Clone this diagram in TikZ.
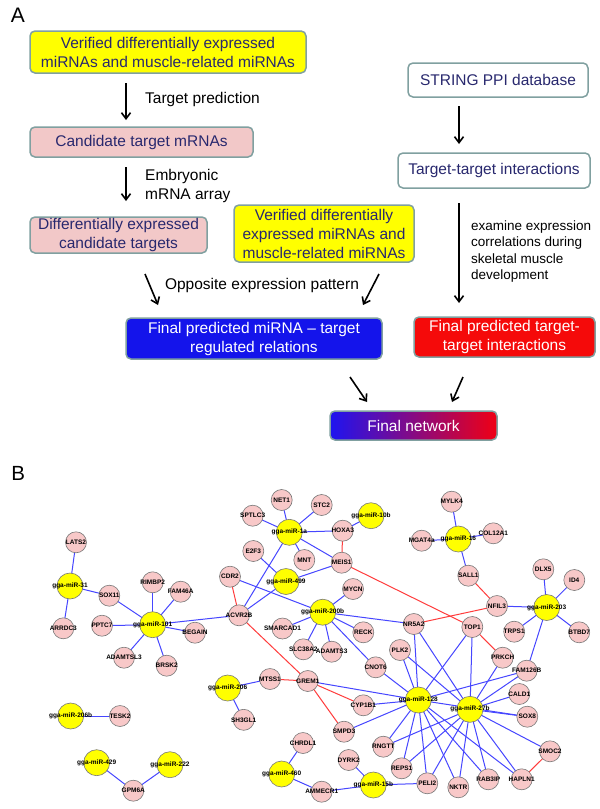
\documentclass[tikz,border=0pt]{standalone}
\usepackage{fontspec}
\setmainfont{Liberation Sans}
\usetikzlibrary{arrows.meta,backgrounds}
\definecolor{boxborder}{RGB}{128,160,160}
\definecolor{navy}{RGB}{40,40,110}
\definecolor{pinkfill}{RGB}{242,200,200}
\definecolor{nodepink}{RGB}{248,200,200}
\definecolor{yel}{RGB}{255,255,0}
\definecolor{bluebox}{RGB}{20,20,235}
\definecolor{redbox}{RGB}{245,10,10}
\definecolor{gradl}{RGB}{30,20,240}
\definecolor{gradm}{RGB}{120,0,130}
\definecolor{gradr}{RGB}{240,0,20}
\definecolor{edgeblue}{RGB}{70,70,255}
\definecolor{edgered}{RGB}{255,60,60}
\definecolor{nodeborder}{RGB}{120,120,120}
\begin{document}
\begin{tikzpicture}[x=1pt,y=-1pt,
  box/.style={draw=boxborder, line width=1.5pt, rounded corners=5pt, align=center, text=navy,
    font=\fontsize{15.5}{19}\selectfont, inner sep=0pt},
  arr/.style={-{Straight Barb[length=6pt,width=9pt]}, line width=1.6pt, black},
  txt/.style={font=\fontsize{15.5}{19}\selectfont, inner sep=0pt},
  lab/.style={font=\fontsize{6.5}{7}\selectfont\bfseries, inner sep=0pt, text=black},
  pk/.style={circle, draw=nodeborder, line width=0.6pt, fill=nodepink, minimum size=21pt, inner sep=0pt, label={[lab]center:#1}},
  mr/.style={circle, draw=nodeborder, line width=0.6pt, fill=yel, minimum size=26pt, inner sep=0pt, label={[lab]center:#1}},
  be/.style={draw=edgeblue, line width=1pt},
  re/.style={draw=edgered, line width=1pt}]
\useasboundingbox (0,0) rectangle (600,809);

% ---------------- Part A ----------------
\node[font=\fontsize{21}{21}\selectfont, inner sep=0pt] (labA) at (18,15) {A};

\node[box, fill=yel, minimum width=276pt, minimum height=42pt] (b1) at (168,52)
  {Verified differentially expressed\\miRNAs and muscle-related miRNAs};
\node[box, fill=pinkfill, minimum width=223pt, minimum height=30pt] (b2) at (141.5,142)
  {Candidate target mRNAs};
\node[box, fill=pinkfill, minimum width=177pt, minimum height=36pt] (b3) at (118.5,235)
  {Differentially expressed\\candidate targets};
\node[box, fill=yel, minimum width=180pt, minimum height=57pt] (b4) at (324,233.5)
  {Verified differentially\\expressed miRNAs and\\muscle-related miRNAs};
\node[box, fill=white, minimum width=180pt, minimum height=34pt] (s1) at (498,80)
  {STRING PPI database};
\node[box, fill=white, minimum width=192pt, minimum height=35pt] (s2) at (494,170.5)
  {Target-target interactions};
\node[box, fill=bluebox, text=white, minimum width=256pt, minimum height=41pt] (fb) at (254,338.5)
  {Final predicted miRNA -- target\\regulated relations};
\node[box, fill=redbox, text=white, minimum width=181pt, minimum height=40pt] (fr) at (504.5,337)
  {Final predicted target-\\target interactions};
\node[box, left color=gradl, middle color=gradm, right color=gradr, text=white,
  minimum width=167pt, minimum height=29pt] (fn) at (413.5,425.5) {Final network};

\node[txt, anchor=west] (tp) at (145,99) {Target prediction};
\node[txt, anchor=west, align=left] (em) at (145,185.5) {Embryonic\\mRNA array};
\node[txt] (op) at (262,285) {Opposite expression pattern};
\node[anchor=west, align=left, inner sep=0pt, font=\fontsize{13.5}{16.3}\selectfont] (ex) at (471,251.5)
  {examine expression\\correlations during\\skeletal muscle\\development};

\coordinate (a1s) at (126,83);   \coordinate (a1e) at (126,120);
\coordinate (a2s) at (126,167);  \coordinate (a2e) at (126,201);
\coordinate (a3s) at (459,106);  \coordinate (a3e) at (459,144);
\coordinate (a4s) at (459,203);  \coordinate (a4e) at (459,303);
\coordinate (a5s) at (145,274);  \coordinate (a5e) at (158,305);
\coordinate (a6s) at (379,274);  \coordinate (a6e) at (363,305);
\coordinate (a7s) at (350,377);  \coordinate (a7e) at (367,402);
\coordinate (a8s) at (463,377);  \coordinate (a8e) at (452,402);
\foreach \s/\e in {a1s/a1e,a2s/a2e,a3s/a3e,a4s/a4e,a5s/a5e,a6s/a6e,a7s/a7e,a8s/a8e}
  \draw[arr] (\s) -- (\e);

% ---------------- Part B ----------------
\node[font=\fontsize{20.5}{20.5}\selectfont, inner sep=0pt] (labB) at (18.3,473.3) {B};

% miRNAs
\node[mr=gga-miR-31] (m31) at (70,586) {};
\node[mr=gga-miR-101] (m101) at (152.7,624.7) {};
\node[mr=gga-miR-206b] (m206b) at (70.7,716) {};
\node[mr=gga-miR-429] (m429) at (96.7,762.7) {};
\node[mr=gga-miR-222] (m222) at (170,764.7) {};
\node[mr=gga-miR-1a] (m1a) at (289.3,532.3) {};
\node[mr=gga-miR-10b] (m10b) at (371,515.7) {};
\node[mr=gga-miR-499] (m499) at (286,581.5) {};
\node[mr=gga-miR-200b] (m200b) at (322.7,612.2) {};
\node[mr=gga-miR-206] (m206) at (227.7,688) {};
\node[mr=gga-miR-460] (m460) at (281.7,774) {};
\node[mr=gga-miR-15b] (m15b) at (373.3,785) {};
\node[mr=gga-miR-16] (m16) at (458.3,539) {};
\node[mr=gga-miR-203] (m203) at (546.7,607.5) {};
\node[mr=gga-miR-128] (m128) at (418.3,700) {};
\node[mr=gga-miR-27b] (m27b) at (470,709.3) {};

% targets
\node[pk=LATS2] (LATS2) at (76,542.3) {};
\node[pk=SOX11] (SOX11) at (109.3,595.7) {};
\node[pk=ARRDC3] (ARRDC3) at (63.3,628.3) {};
\node[pk=RIMBP2] (RIMBP2) at (152.7,582.3) {};
\node[pk=FAM46A] (FAM46A) at (180.7,591.7) {};
\node[pk=PPTC7] (PPTC7) at (102,625.7) {};
\node[pk=BEGAIN] (BEGAIN) at (195,632.7) {};
\node[pk=ADAMTSL3] (ADAMTSL3) at (124,657.7) {};
\node[pk=BRSK2] (BRSK2) at (166.7,665.7) {};
\node[pk=TESK2] (TESK2) at (120,716) {};
\node[pk=GPM6A] (GPM6A) at (133.3,790.7) {};
\node[pk=CDR2] (CDR2) at (230,576.7) {};
\node[pk=ACVR2B] (ACVR2B) at (239,615.3) {};
\node[pk=NET1] (NET1) at (281.7,500) {};
\node[pk=STC2] (STC2) at (321.7,505) {};
\node[pk=SPTLC3] (SPTLC3) at (252.7,515.7) {};
\node[pk=HOXA3] (HOXA3) at (342.7,530.7) {};
\node[pk=E2F3] (E2F3) at (253.3,551) {};
\node[pk=MNT] (MNT) at (304.3,560) {};
\node[pk=MEIS1] (MEIS1) at (341.7,562.7) {};
\node[pk=MYCN] (MYCN) at (353,589) {};
\node[pk=SMARCAD1] (SMARCAD1) at (282.5,628.5) {};
\node[pk=RECK] (RECK) at (363.3,632.3) {};
\node[pk=SLC38A2] (SLC38A2) at (303.3,649.3) {};
\node[pk=ADAMTS3] (ADAMTS3) at (331.7,651.7) {};
\node[pk=MTSS1] (MTSS1) at (270,679) {};
\node[pk=GREM1] (GREM1) at (307.8,681) {};
\node[pk=SH3GL1] (SH3GL1) at (243.7,719.8) {};
\node[pk=CHRDL1] (CHRDL1) at (303,743) {};
\node[pk=AMMECR1] (AMMECR1) at (321.7,791.7) {};
\node[pk=MYLK4] (MYLK4) at (451.7,501.7) {};
\node[pk=MGAT4a] (MGAT4a) at (421.7,540.7) {};
\node[pk=COL12A1] (COL12A1) at (493.3,533.3) {};
\node[pk=SALL1] (SALL1) at (468.3,575.7) {};
\node[pk=NFIL3] (NFIL3) at (497,606) {};
\node[pk=DLX5] (DLX5) at (543.3,569.3) {};
\node[pk=ID4] (ID4) at (574.3,580) {};
\node[pk=TRPS1] (TRPS1) at (514.2,631.7) {};
\node[pk=BTBD7] (BTBD7) at (579.2,632.3) {};
\node[pk=NR5A2] (NR5A2) at (413.8,624) {};
\node[pk=TOP1] (TOP1) at (472.3,627) {};
\node[pk=PLK2] (PLK2) at (400,650) {};
\node[pk=PRKCH] (PRKCH) at (502.7,657.7) {};
\node[pk=CNOT6] (CNOT6) at (375.7,667.3) {};
\node[pk=FAM126B] (FAM126B) at (526.7,670.7) {};
\node[pk=CALD1] (CALD1) at (519.3,694) {};
\node[pk=CYP1B1] (CYP1B1) at (363.3,705.3) {};
\node[pk=SOX8] (SOX8) at (527.3,716.7) {};
\node[pk=SMPD3] (SMPD3) at (344,731.7) {};
\node[pk=RNGTT] (RNGTT) at (383.3,746.7) {};
\node[pk=SMOC2] (SMOC2) at (550,751.3) {};
\node[pk=DYRK2] (DYRK2) at (348.7,760) {};
\node[pk=REPS1] (REPS1) at (401.7,768.3) {};
\node[pk=PELI2] (PELI2) at (427.3,783.3) {};
\node[pk=NKTR] (NKTR) at (458.3,787.3) {};
\node[pk=RAB3IP] (RAB3IP) at (488.3,779.3) {};
\node[pk=HAPLN1] (HAPLN1) at (521.7,779.3) {};

\begin{scope}[on background layer]
\fill[white] (0,0) rectangle (600,809);
\foreach \a/\b in {m31/LATS2,m31/SOX11,m31/ARRDC3,
  m101/SOX11,m101/RIMBP2,m101/FAM46A,m101/PPTC7,m101/BEGAIN,m101/ADAMTSL3,m101/BRSK2,m101/ACVR2B,
  m206b/TESK2,m429/GPM6A,m222/GPM6A,
  m1a/SPTLC3,m1a/NET1,m1a/STC2,m1a/HOXA3,m1a/MNT,m1a/MEIS1,m1a/ACVR2B,
  m10b/HOXA3,m499/E2F3,m499/MEIS1,m499/ACVR2B,
  m200b/CDR2,m200b/MYCN,m200b/SMARCAD1,m200b/RECK,m200b/SLC38A2,m200b/ADAMTS3,m200b/CNOT6,m200b/NR5A2,
  m206/MTSS1,m206/SH3GL1,m460/CHRDL1,m460/AMMECR1,
  m15b/DYRK2,m15b/AMMECR1,m15b/PELI2,
  m16/MYLK4,m16/MGAT4a,m16/COL12A1,m16/SALL1,
  m203/NFIL3,m203/DLX5,m203/ID4,m203/TRPS1,m203/BTBD7,m203/FAM126B,
  m128/NR5A2,m128/PLK2,m128/TOP1,m128/CNOT6,m128/GREM1,m128/CYP1B1,m128/SMPD3,m128/FAM126B,m128/SOX8,
  m128/RNGTT,m128/REPS1,m128/PELI2,m128/NKTR,m128/RAB3IP,m128/HAPLN1,
  m27b/NR5A2,m27b/PLK2,m27b/TOP1,m27b/PRKCH,m27b/FAM126B,m27b/CALD1,m27b/SOX8,m27b/SMOC2,
  m27b/HAPLN1,m27b/RAB3IP,m27b/NKTR,m27b/PELI2,m27b/REPS1,m27b/RNGTT}
  \draw[be] (\a.center) -- (\b.center);
\foreach \a/\b in {CDR2/ACVR2B,HOXA3/MEIS1,MEIS1/TOP1,ACVR2B/GREM1,MTSS1/GREM1,GREM1/CYP1B1,
  GREM1/SMPD3,SALL1/NFIL3,NFIL3/NR5A2,TOP1/PRKCH,SMOC2/HAPLN1}
  \draw[re] (\a.center) -- (\b.center);
\end{scope}
\end{tikzpicture}
\end{document}
